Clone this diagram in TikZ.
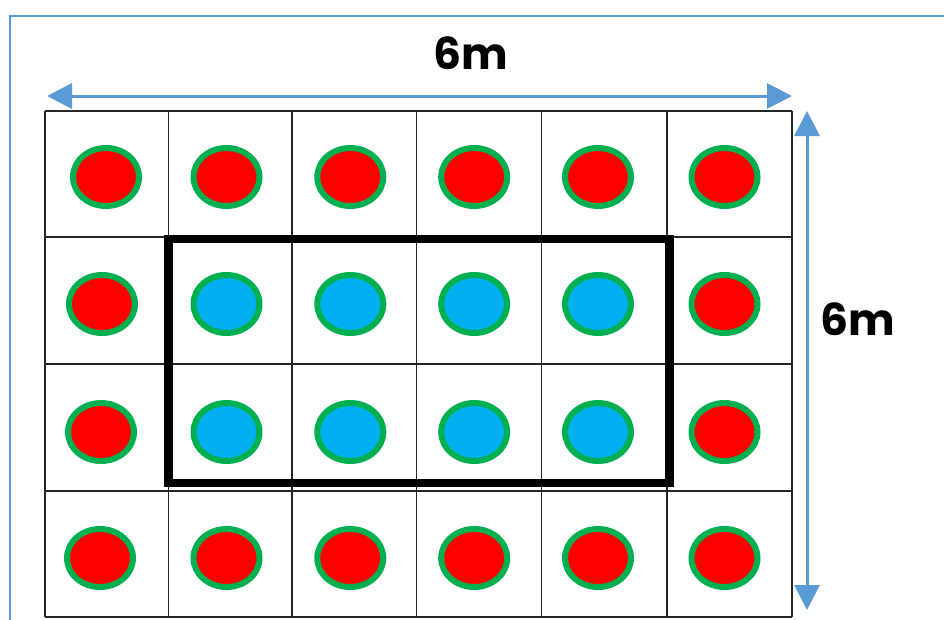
\documentclass[tikz,border=0pt]{standalone}
\usepackage{fontspec}
\setmainfont{Poppins}
\usetikzlibrary{shapes.geometric,arrows.meta}
\definecolor{frameblue}{HTML}{5B9BD5}
\definecolor{arrowblue}{HTML}{5B9BD5}
\definecolor{gridgray}{HTML}{262626}
\definecolor{dotred}{HTML}{FF0000}
\definecolor{dotblue}{HTML}{00B0F0}
\definecolor{dotgreen}{HTML}{00B050}
\tikzset{
  gridline/.style={draw=gridgray, line width=1.9pt},
  dotbase/.style={ellipse, draw=dotgreen, line width=6pt, minimum width=66pt, minimum height=58pt, inner sep=0pt},
  reddot/.style={dotbase, fill=dotred},
  bluedot/.style={dotbase, fill=dotblue},
  dimarrow/.style={draw=arrowblue, line width=3pt, {Triangle[length=25pt,width=25pt]}-{Triangle[length=25pt,width=25pt]}},
  dimlabel/.style={font=\bfseries\fontsize{44}{48}\selectfont, inner sep=0pt, anchor=center},
  zone/.style={draw=black, line width=8.5pt}
}
\begin{document}
\begin{tikzpicture}[x=1pt, y=-1pt]
\useasboundingbox (0,0) rectangle (944,619);
\clip (0,0) rectangle (944,619);
\fill[white] (0,0) rectangle (944,619);
% outer frame
\draw[frameblue, line width=2pt] (9.5,15.5) rectangle (990,680);
% grid
\foreach \x in {45,168.5,292,416.5,541.5,667,792}
  \draw[gridline] (\x,111) -- (\x,617);
\foreach \y in {111,237,364,491,617}
  \draw[gridline] (45,\y) -- (792,\y);
% dots
\foreach \y/\xa/\r in {177/106/1,304/102/2,432/101/3,558/100/4} {
  \node[reddot] (d\r c1) at (\xa,\y) {};
  \node[reddot] (d\r c6) at (724.5,\y) {};
}
\foreach \x/\c in {226.5/2,350.3/3,474.2/4,598/5} {
  \node[reddot] (d1c\c) at (\x,177) {};
  \node[bluedot] (d2c\c) at (\x,304) {};
  \node[bluedot] (d3c\c) at (\x,432) {};
  \node[reddot] (d4c\c) at (\x,558) {};
}
% thick zone
\draw[zone] (168.5,239) rectangle (669.5,483);
% dimension arrows
\coordinate (hl) at (47,96);
\coordinate (hr) at (792,96);
\coordinate (vt) at (807,111);
\coordinate (vb) at (807,610);
\draw[dimarrow] (hl) -- (hr);
\draw[dimarrow] (vt) -- (vb);
\node[dimlabel] (toplabel) at (470.5,53) {6m};
\node[dimlabel] (rightlabel) at (858,319) {6m};
\end{tikzpicture}
\end{document}
